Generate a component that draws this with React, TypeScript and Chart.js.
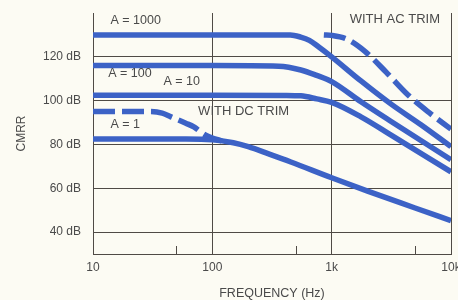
import React, { useEffect, useRef } from "react";
import { Chart, registerables } from "chart.js";

Chart.register(...registerables);

// ---- tick data ----
const xTickValues = [10, 100, 1000, 10000];
const xTickLabels = ["10", "100", "1k", "10k"];
const xMinorTicks = [50, 500, 5000];
const yTickValues = [40, 60, 80, 100, 120];

// ---- series (frequency in Hz, CMRR in dB) ----
const a1000Freq = [10, 100, 450, 550, 650, 780, 1000, 1760, 3150, 5600, 10000];
const a1000Db = [130, 130, 130, 129, 127.5, 124.5, 120, 109, 98.4, 89, 79];

const acTrimFreq = [860, 1000, 1350, 1900, 2860, 4370, 6570, 10000];
const acTrimDb = [130, 129.8, 128, 122.5, 113, 102.6, 94.5, 87];

const a100Freq = [10, 100, 360, 552, 750, 1000, 1760, 3150, 10000];
const a100Db = [116, 116, 115.7, 114, 111.5, 108.7, 99.5, 90.5, 73];

const a10Freq = [10, 100, 400, 552, 750, 1000, 1760, 3150, 10000];
const a10Db = [102.5, 102.5, 102.4, 102.2, 100.8, 99.2, 92.6, 84.3, 67.5];

const a1Freq = [10, 60, 100, 150, 200, 300, 455, 1000, 2000, 5000, 10000];
const a1Db = [82.5, 82.5, 82.2, 80.8, 79, 75.6, 72, 64.8, 58.7, 51, 45.2];

const dcTrimFreq = [10, 30, 38, 45, 60, 70, 88, 105, 120];
const dcTrimDb = [95, 95, 94.3, 92.6, 89.7, 88, 84.2, 82.6, 81.6];

// ---- in-plot labels (anchored in data coordinates) ----
const labelTexts = ["A = 1000", "A = 100", "A = 10", "A = 1", "WITH DC TRIM", "WITH AC TRIM"];
const labelFreqs = [14, 13.4, 39, 14, 76, 1416];
const labelDbs = [136.7, 112.2, 108.7, 89.3, 94.9, 137];
const labelSizes = [12.5, 12.5, 12.5, 12.5, 13, 13];

const BLUE = "#3c62c6";
const GRID = "#4f4a45";
const TEXT = "#4a4a4a";
const BG = "#fcfbf3";
const FONT = "'Liberation Sans', Arial, sans-serif";

const pts = (f: number[], d: number[]) => f.map((x, i) => ({ x, y: d[i] }));

const line = (data: { x: number; y: number }[], dash: number[] = []) => ({
  data,
  borderColor: BLUE,
  borderWidth: 5.5,
  borderDash: dash,
  borderCapStyle: "butt" as const,
  pointRadius: 0,
  fill: false,
  cubicInterpolationMode: "monotone" as const,
});

export default function App() {
  const ref = useRef<HTMLCanvasElement | null>(null);

  useEffect(() => {
    if (!ref.current) return;

    const bgPlugin = {
      id: "bg",
      beforeDraw(chart: any) {
        const { ctx, width, height } = chart;
        ctx.save();
        ctx.fillStyle = BG;
        ctx.fillRect(0, 0, width, height);
        ctx.restore();
      },
    };

    const extrasPlugin = {
      id: "extras",
      afterDatasetsDraw(chart: any) {
        const { ctx, chartArea, scales } = chart;
        const xs = scales.x;
        const ys = scales.y;
        ctx.save();
        ctx.strokeStyle = GRID;
        ctx.lineWidth = 1;
        for (const v of xMinorTicks) {
          const px = Math.round(xs.getPixelForValue(v)) + 0.5;
          ctx.beginPath();
          ctx.moveTo(px, chartArea.bottom);
          ctx.lineTo(px, chartArea.bottom - 8);
          ctx.stroke();
        }
        ctx.fillStyle = TEXT;
        ctx.textAlign = "left";
        ctx.textBaseline = "middle";
        labelTexts.forEach((t, i) => {
          ctx.font = `${labelSizes[i]}px ${FONT}`;
          ctx.fillText(t, xs.getPixelForValue(labelFreqs[i]), ys.getPixelForValue(labelDbs[i]));
        });
        ctx.restore();
      },
    };

    const chart = new Chart(ref.current, {
      type: "line",
      data: {
        datasets: [
          line(pts(a1000Freq, a1000Db)),
          line(pts(acTrimFreq, acTrimDb), [22, 7]),
          line(pts(a100Freq, a100Db)),
          line(pts(a10Freq, a10Db)),
          line(pts(a1Freq, a1Db)),
          line(pts(dcTrimFreq, dcTrimDb), [22, 7]),
        ],
      },
      options: {
        responsive: false,
        animation: false,
        events: [],
        layout: { padding: { left: 0, right: 7, top: 13, bottom: 0 } },
        plugins: {
          legend: { display: false },
          tooltip: { enabled: false },
          title: { display: false },
        },
        scales: {
          x: {
            type: "logarithmic",
            min: 10,
            max: 10000,
            afterBuildTicks: (s: any) => {
              s.ticks = xTickValues.map((v) => ({ value: v }));
            },
            afterFit: (s: any) => {
              s.height = 46;
              s.paddingLeft = 0;
              s.paddingRight = 0;
            },
            ticks: {
              autoSkip: false,
              maxRotation: 0,
              padding: 6,
              color: TEXT,
              font: { family: FONT, size: 12 },
              callback: (_v: any, i: number) => xTickLabels[i],
            },
            grid: { color: GRID, lineWidth: 1, drawTicks: false },
            border: { display: true, color: GRID, width: 1 },
            title: {
              display: true,
              text: "FREQUENCY (Hz)",
              color: TEXT,
              font: { family: FONT, size: 12.5, lineHeight: 1 },
              padding: { top: 0, bottom: 0 },
            },
          },
          y: {
            type: "linear",
            min: 30,
            max: 140,
            afterBuildTicks: (s: any) => {
              s.ticks = yTickValues.map((v) => ({ value: v }));
            },
            afterFit: (s: any) => {
              s.width = 93;
              s.paddingTop = 0;
              s.paddingBottom = 0;
            },
            ticks: {
              padding: 12,
              color: TEXT,
              font: { family: FONT, size: 12 },
              callback: (v: any) => `${v} dB`,
            },
            grid: { color: GRID, lineWidth: 1, drawTicks: false },
            border: { display: true, color: GRID, width: 1 },
            title: {
              display: true,
              text: "CMRR",
              color: TEXT,
              font: { family: FONT, size: 12 },
              padding: { top: 14, bottom: 0 },
            },
          },
        },
      },
      plugins: [bgPlugin, extrasPlugin],
    } as any);

    return () => chart.destroy();
  }, []);

  return (
    <div style={{ position: "fixed", left: 0, top: 0, width: 458, height: 300 }}>
      <canvas ref={ref} width={458} height={300} style={{ display: "block" }} />
    </div>
  );
}
